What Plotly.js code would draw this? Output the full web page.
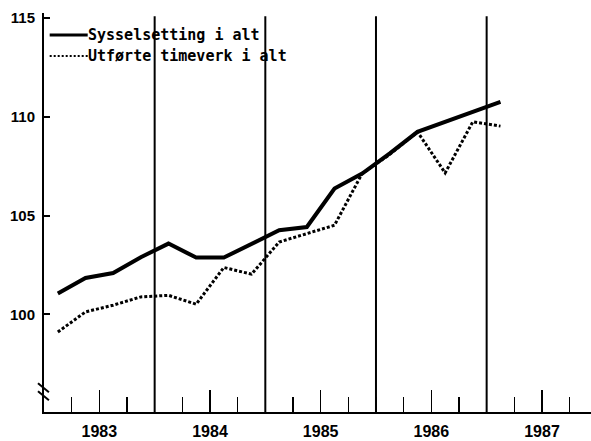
<!DOCTYPE html>
<html>
<head>
<meta charset="utf-8">
<script src="https://cdn.plot.ly/plotly-3.0.1.min.js"></script>
<style>html,body{margin:0;padding:0;background:#fff;}#chart{width:591px;height:441px;}</style>
</head>
<body>
<div id="chart"></div>
<script>
// Quarterly observations, 1983 Q1 - 1987 Q1 (placed at mid-quarter)
const quarters = ["1983K1","1983K2","1983K3","1983K4","1984K1","1984K2","1984K3","1984K4",
                  "1985K1","1985K2","1985K3","1985K4","1986K1","1986K2","1986K3","1986K4","1987K1"];
const sysselsetting = [101.05,101.84,102.09,102.89,103.58,102.87,102.87,103.59,
                       104.26,104.42,106.37,107.13,108.15,109.24,109.73,110.25,110.76];
const timeverk = [99.10,100.12,100.46,100.88,100.96,100.51,102.37,102.03,
                  103.66,104.09,104.51,107.13,108.10,109.24,107.16,109.75,109.53];
const yearLabels = ["1983","1984","1985","1986","1987"];
const yTicks = [100,105,110,115];
const seriesNames = ["Sysselsetting i alt","Utførte timeverk i alt"];

function qpos(q){ const y=+q.slice(0,4), k=+q.slice(5); return y + (k-1)*0.25 + 0.125; }
const xs = quarters.map(qpos);
const years = yearLabels.map(Number);

const traces = [
  {x: xs, y: sysselsetting, type:'scatter', mode:'lines', name: seriesNames[0],
   line:{color:'#000', width:4}, showlegend:false},
  {x: xs, y: timeverk, type:'scatter', mode:'lines', name: seriesNames[1],
   line:{color:'#000', width:3, dash:'3px,2px'}, showlegend:false}
];

const yMin = 95.05, yMax = 115.26;
const shapes = [];
years.slice(1).forEach(v => shapes.push({type:'line', xref:'x', yref:'y', x0:v, x1:v, y0:yMin, y1:115.1,
  line:{color:'#000', width:2}}));
// legend samples
shapes.push({type:'line', xref:'paper', yref:'paper', x0:0.0104, x1:0.0799, y0:0.9448, y1:0.9448, line:{color:'#000', width:3}});
shapes.push({type:'line', xref:'paper', yref:'paper', x0:0.0104, x1:0.0799, y0:0.892, y1:0.892, line:{color:'#000', width:2, dash:'2px,2px'}});
// axis break marks
shapes.push({type:'line', xref:'paper', yref:'paper', x0:-0.011, x1:0.009, y0:0.072, y1:0.0494, line:{color:'#000', width:2}});
shapes.push({type:'line', xref:'paper', yref:'paper', x0:-0.011, x1:0.009, y0:0.0519, y1:0.0293, line:{color:'#000', width:2}});

const annFont = {family:'DejaVu Sans Mono, monospace', size:15, color:'#000', weight:'bold'};
const annotations = seriesNames.map((t,i)=>({text:t, xref:'paper', yref:'paper', x:0.0765, y:[0.9448,0.892][i],
  xanchor:'left', yanchor:'middle', showarrow:false, font:annFont}));

const layout = {
  width:591, height:441,
  margin:{l:44.3, r:0, t:13, b:29.3, pad:0},
  paper_bgcolor:'#fff', plot_bgcolor:'#fff',
  showlegend:false,
  xaxis:{range:[1983,1987.943], showgrid:false, zeroline:false, showline:true, linecolor:'#000', linewidth:2,
    ticks:'inside', tickvals: years.map(v=>v+0.5), ticktext: yearLabels, ticklen:22, tickwidth:1.5, tickcolor:'#000',
    minor:{ticks:'inside', tick0:1983, dtick:0.25, ticklen:15, tickwidth:1.5, tickcolor:'#000', showgrid:false},
    tickfont:{family:'Liberation Sans, Arial, sans-serif', size:16, color:'#000', weight:'bold'},
    ticklabelstandoff:4},
  yaxis:{range:[yMin,yMax], showgrid:false, zeroline:false, showline:true, linecolor:'#000', linewidth:2,
    ticks:'inside', tickvals:yTicks, ticktext:yTicks.map(String), ticklen:6, tickwidth:2, tickcolor:'#000',
    tickfont:{family:'Liberation Sans, Arial, sans-serif', size:15, color:'#000', weight:'bold'},
    ticklabelstandoff:4},
  shapes: shapes,
  annotations: annotations
};

Plotly.newPlot('chart', traces, layout, {displayModeBar:false, staticPlot:true});
</script>
</body>
</html>
